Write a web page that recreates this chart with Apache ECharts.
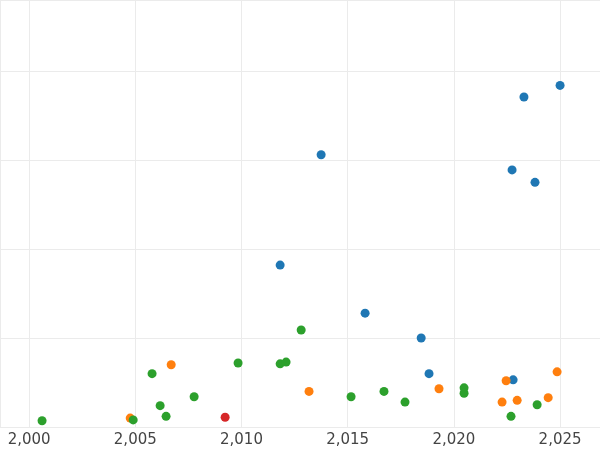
<!DOCTYPE html>
<html><head><meta charset="utf-8">
<script src="https://cdn.jsdelivr.net/npm/echarts@6/dist/echarts.min.js"></script>
<style>html,body{margin:0;padding:0}#c{width:600px;height:450px}</style>
</head><body><div id="c"></div>
<script>
const blueX=[2025.0,2023.3,2013.75,2022.74,2023.82,2011.82,2015.82,2018.46,2018.83,2022.79];
const blueY=[3.84,3.71,3.06,2.89,2.75,1.82,1.28,1.0,0.60,0.53];
const orangeX=[2006.69,2004.76,2013.18,2019.30,2022.46,2022.27,2022.98,2024.44,2024.86];
const orangeY=[0.70,0.10,0.40,0.43,0.52,0.28,0.30,0.33,0.62];
const greenX=[2000.61,2004.90,2005.79,2006.17,2006.45,2007.77,2009.84,2011.82,2012.10,2012.81,2015.16,2016.71,2017.70,2020.48,2020.48,2022.69,2023.92];
const greenY=[0.07,0.08,0.60,0.24,0.12,0.34,0.72,0.71,0.73,1.09,0.34,0.40,0.28,0.44,0.38,0.12,0.25];
const redX=[2009.23];
const redY=[0.11];
const zip=(a,b)=>a.map((v,i)=>[v,b[i]]);
const mk=(x,y,c)=>({type:'scatter',data:zip(x,y),symbolSize:9,itemStyle:{color:c,opacity:1}});
const chart=echarts.init(document.getElementById('c'));
chart.setOption({
 animation:false,
 grid:{left:0,right:0,top:0,bottom:23,containLabel:false},
 xAxis:{type:'value',min:1998.63,max:2026.88,splitNumber:5,
  axisLine:{show:false},axisTick:{show:false},
  axisLabel:{showMinLabel:false,showMaxLabel:false,fontSize:15,color:'#444',fontFamily:'DejaVu Sans',margin:6},
  splitLine:{lineStyle:{color:'#ebebeb'}}},
 yAxis:{type:'value',min:0,max:4.8,interval:1,
  axisLine:{show:false},axisTick:{show:false},axisLabel:{show:false},
  splitLine:{lineStyle:{color:'#ebebeb'}}},
 series:[mk(blueX,blueY,'#1f77b4'),mk(orangeX,orangeY,'#ff7f0e'),mk(greenX,greenY,'#2ca02c'),mk(redX,redY,'#d62728')]
});
</script></body></html>
